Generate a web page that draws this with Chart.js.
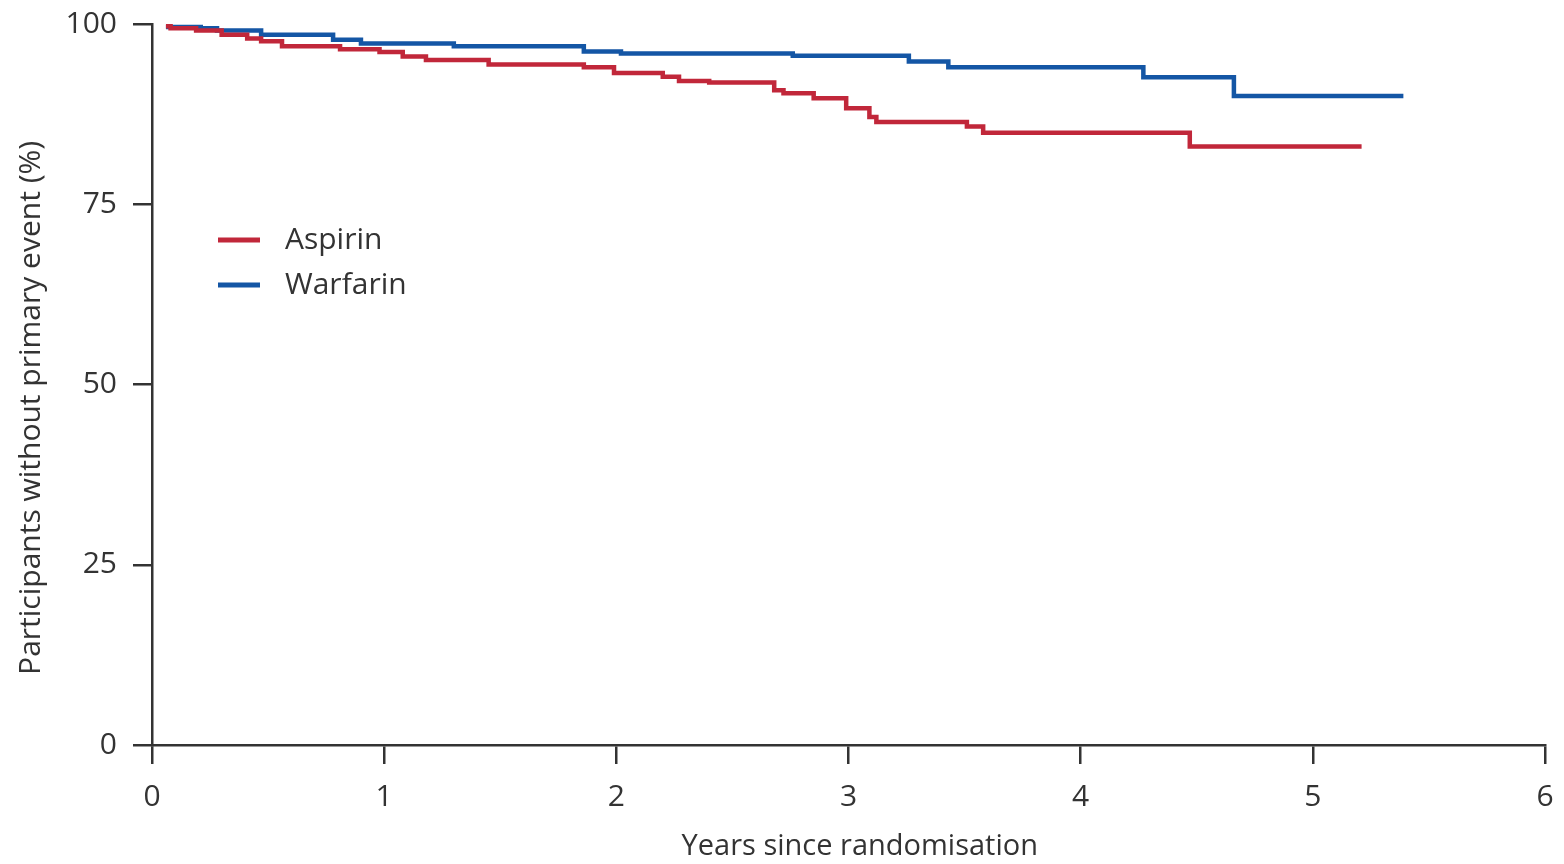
<!DOCTYPE html>
<html>
<head>
<meta charset="utf-8">
<script src="https://cdn.jsdelivr.net/npm/chart.js@4/dist/chart.umd.min.js"></script>
<style>
  body { margin: 0; background: #fff; }
  #wrap { width: 1564px; height: 864px; }
</style>
</head>
<body>
<div id="wrap"><canvas id="kmChart" width="1564" height="864"></canvas></div>
<script>
// Kaplan-Meier steps (years, % without primary event)
const aspirinTime = [0.06, 0.08, 0.19, 0.30, 0.41, 0.47, 0.56, 0.81, 0.98, 1.08, 1.18, 1.45, 1.86, 1.99, 2.20, 2.27, 2.40, 2.68, 2.72, 2.85, 2.99, 3.09, 3.12, 3.51, 3.58, 4.47, 5.21];
const aspirinSurv = [99.7, 99.4, 99.1, 98.5, 98.0, 97.6, 96.9, 96.5, 96.1, 95.5, 95.0, 94.4, 94.0, 93.2, 92.7, 92.1, 91.9, 90.8, 90.4, 89.7, 88.3, 87.1, 86.4, 85.8, 84.9, 83.0, 83.0];

const warfarinTime = [0.06, 0.21, 0.28, 0.47, 0.78, 0.90, 1.30, 1.86, 2.02, 2.76, 3.26, 3.43, 4.27, 4.66, 5.39];
const warfarinSurv = [99.6, 99.4, 99.1, 98.5, 97.8, 97.3, 96.9, 96.2, 95.9, 95.6, 94.8, 94.0, 92.6, 90.0, 90.0];

const xTicks = [0, 1, 2, 3, 4, 5, 6];
const yTicks = [0, 25, 50, 75, 100];

const toPoints = (t, s) => t.map((x, i) => ({ x: x, y: s[i] }));

const inkColor = '#333333';
const fontStack = "'Open Sans', 'Noto Sans', sans-serif";
Chart.defaults.font.family = fontStack;
Chart.defaults.color = inkColor;

// draws the legend inside the plot area, top left
const innerLegend = {
    id: 'innerLegend',
    afterDraw(chart) {
        const ctx = chart.ctx;
        const area = chart.chartArea;
        ctx.save();
        ctx.font = '30px ' + fontStack;
        ctx.textBaseline = 'middle';
        chart.data.datasets.forEach((ds, i) => {
            const y = area.top + 216 + i * 45;
            ctx.strokeStyle = ds.borderColor;
            ctx.lineWidth = 5;
            ctx.beginPath();
            ctx.moveTo(area.left + 66, y);
            ctx.lineTo(area.left + 108, y);
            ctx.stroke();
            ctx.fillStyle = inkColor;
            ctx.fillText(ds.label, area.left + 133, y);
        });
        ctx.restore();
    }
};

const ctx = document.getElementById('kmChart').getContext('2d');
const kmChart = new Chart(ctx, {
    type: 'line',
    data: {
        datasets: [{
            label: 'Aspirin',
            data: toPoints(aspirinTime, aspirinSurv),
            borderColor: '#c1273a',
            borderWidth: 4.5,
            stepped: true,
            pointRadius: 0,
            fill: false
        }, {
            label: 'Warfarin',
            data: toPoints(warfarinTime, warfarinSurv),
            borderColor: '#1456a5',
            borderWidth: 4.5,
            stepped: true,
            pointRadius: 0,
            fill: false
        }]
    },
    options: {
        responsive: false,
        animation: false,
        layout: { padding: { top: 24, right: 19, left: 0, bottom: 0 } },
        plugins: {
            legend: { display: false },
            tooltip: { enabled: false }
        },
        scales: {
            x: {
                type: 'linear',
                min: 0,
                max: 6,
                afterBuildTicks: (s) => { s.ticks = xTicks.map(v => ({ value: v })); },
                afterFit: (s) => {
                    s.height = 119;
                    s.paddingLeft = 0;
                    s.paddingRight = 0;
                },
                border: { display: true, color: inkColor, width: 2.5 },
                grid: { drawOnChartArea: false, drawTicks: true, tickLength: 19, color: inkColor, lineWidth: 2.5 },
                ticks: { font: { size: 30 }, padding: 15, color: inkColor },
                title: {
                    display: true,
                    // leading spaces nudge the centred title to the right like the original
                    text: '   Years since randomisation',
                    font: { size: 29 },
                    color: inkColor,
                    padding: { top: 0, bottom: 0 }
                }
            },
            y: {
                min: 0,
                max: 100,
                afterBuildTicks: (s) => { s.ticks = yTicks.map(v => ({ value: v })); },
                afterFit: (s) => {
                    s.width = 152;
                    s.paddingTop = 0;
                    s.paddingBottom = 0;
                },
                border: { display: true, color: inkColor, width: 2.5 },
                grid: { drawOnChartArea: false, drawTicks: true, tickLength: 19, color: inkColor, lineWidth: 2.5 },
                ticks: { font: { size: 30 }, padding: 16, color: inkColor },
                title: {
                    display: true,
                    // trailing spaces push the centred title down a little
                    text: 'Participants without primary event (%)      ',
                    font: { size: 30 },
                    color: inkColor,
                    padding: { top: 13, bottom: 0 }
                }
            }
        }
    },
    plugins: [innerLegend]
});
</script>
</body>
</html>
